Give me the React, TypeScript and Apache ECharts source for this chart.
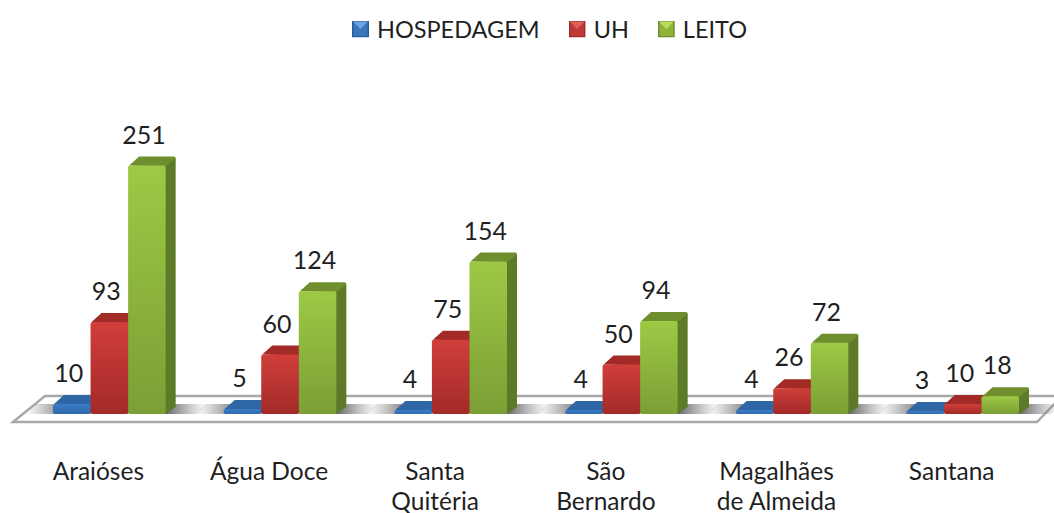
import React, { useEffect, useRef } from "react";
import * as echarts from "echarts";

const categories = ["Araióses", "Água Doce", "Santa\nQuitéria", "São\nBernardo", "Magalhães\nde Almeida", "Santana"];
const hospedagem = [10, 5, 4, 4, 4, 3];
const uh = [93, 60, 75, 50, 26, 10];
const leito = [251, 124, 154, 94, 72, 18];

const palette = [
  { front: ["#3c7cc6", "#2f69ad"], side: "#27568f", top: "#2f66a6" },
  { front: ["#d03e3b", "#a32a28"], side: "#7f1f1d", top: "#a22a27" },
  { front: ["#9dc945", "#7b9f35"], side: "#5c7a27", top: "#6f8f2e" },
];

const svgIcon = (hi: string, mid: string, edge: string) =>
  "image://data:image/svg+xml;charset=utf-8," +
  encodeURIComponent(
    `<svg xmlns="http://www.w3.org/2000/svg" width="17" height="17"><rect width="17" height="17" fill="${edge}"/><rect x="1.5" y="1.5" width="14" height="14" fill="${mid}"/><polygon points="1,1 16,1 8.5,8.5" fill="${hi}"/></svg>`
  );

const icons = [
  svgIcon("#6ea3e0", "#3a74ba", "#2b5c99"),
  svgIcon("#e0605c", "#bf3a37", "#96302e"),
  svgIcon("#b8dc5e", "#8fb23c", "#6f8c30"),
];

const vgrad = (a: string, b: string) => new echarts.graphic.LinearGradient(0, 0, 0, 1, [
  { offset: 0, color: a },
  { offset: 1, color: b },
]);
const hgrad = (a: string, b: string) => new echarts.graphic.LinearGradient(0, 0, 1, 0, [
  { offset: 0, color: a },
  { offset: 1, color: b },
]);

const barSeries = (name: string, values: number[], idx: number) => ({
  type: "custom",
  name,
  z: 3 + idx,
  itemStyle: { color: palette[idx].front[0] },
  data: values.map((v, i) => [i, v]),
  encode: { x: 0, y: 1 },
  renderItem: (_p: any, api: any) => {
    const band = api.size([1, 0])[0];
    const w = band * 0.22;
    const base = api.coord([api.value(0), 0]);
    const top = api.coord([api.value(0), api.value(1)]);
    const left = base[0] + band * 0.0645 + (idx - 1.5) * w;
    const right = left + w;
    const dx = 10;
    const dy = 9;
    const c = palette[idx];
    const h = Math.max(base[1] - top[1], 1);
    return {
      type: "group",
      children: [
        {
          type: "polygon",
          shape: { points: [[right - 1, top[1]], [right + dx, top[1] - dy + 1], [right + dx, base[1] - dy + 2], [right - 1, base[1]]] },
          style: { fill: c.side },
        },
        {
          type: "polygon",
          shape: { points: [[left + 1, top[1]], [left + dx + 1, top[1] - dy], [right + dx - 1, top[1] - dy], [right + dx, top[1] - dy + 2], [right, top[1] + 1]] },
          style: { fill: c.top },
        },
        {
          type: "rect",
          shape: { x: left, y: top[1], width: w, height: h, r: Math.min(2, h / 2) },
          style: { fill: vgrad(c.front[0], c.front[1]) },
        },
        {
          type: "text",
          style: {
            x: left + w / 2 - 3,
            y: top[1] - dy - 23,
            text: String(api.value(1)),
            fill: "#1f1f1f",
            font: "25px Lato",
            align: "center",
            verticalAlign: "middle",
          },
        },
      ],
    };
  },
});

const shadowSeries = {
  type: "custom",
  silent: true,
  z: 2,
  data: categories.map((_c, i) => [i, 0]),
  encode: { x: 0, y: 1 },
  renderItem: (_p: any, api: any) => {
    const band = api.size([1, 0])[0];
    const base = api.coord([api.value(0), 0]);
    const groupL = base[0] + band * 0.0645 - band * 0.33;
    const groupR = base[0] + band * 0.0645 + band * 0.33;
    const y = base[1] - 10;
    return {
      type: "group",
      children: [
        {
          type: "polygon",
          shape: { points: [[groupL - 18, y], [groupL + 14, y], [groupL + 4, y + 10], [groupL - 28, y + 10]] },
          style: { fill: hgrad("rgba(140,140,140,0)", "rgba(110,110,110,0.95)") },
        },
        {
          type: "polygon",
          shape: { points: [[groupR - 2, y], [groupR + 42, y], [groupR + 32, y + 10], [groupR - 2, y + 10]] },
          style: { fill: hgrad("rgba(90,90,90,1)", "rgba(140,140,140,0)") },
        },
      ],
    };
  },
};

export default function App() {
  const ref = useRef<HTMLDivElement>(null);
  useEffect(() => {
    const chart = echarts.init(ref.current!, undefined, { renderer: "svg" });
    chart.setOption({
      animation: false,
      backgroundColor: "#ffffff",
      textStyle: { fontFamily: "Lato" },
      legend: {
        left: 347,
        top: 12,
        itemWidth: 17,
        itemHeight: 17,
        itemGap: 29,
        data: [
          { name: "HOSPEDAGEM", icon: icons[0] },
          { name: "UH", icon: icons[1] },
          { name: "LEITO", icon: icons[2] },
        ],
        textStyle: { fontFamily: "Lato", fontSize: 23.5, color: "#1f1f1f", padding: [0, 0, 0, 3] },
      },
      grid: { left: 13, width: 1024, top: 117, height: 297, outerBoundsMode: "none" },
      xAxis: {
        type: "category",
        data: categories.map((c) => (c.includes("\n") ? { value: c, textStyle: { padding: [0, 9, 0, 0] } } : c)),
        axisLine: { show: false },
        axisTick: { show: false },
        axisLabel: { fontFamily: "Lato", fontSize: 24.5, color: "#1f1f1f", lineHeight: 30, margin: 41, interval: 0 },
      },
      yAxis: { type: "value", min: 0, max: 300, show: false },
      graphic: [
        {
          type: "polygon",
          z: 0,
          shape: { points: [[13, 422], [45, 396], [1062, 396], [1037, 422]] },
          style: { fill: "#ffffff", stroke: "#a8a8a8", lineWidth: 2.4 },
        },
      ],
      series: [
        shadowSeries,
        barSeries("HOSPEDAGEM", hospedagem, 0),
        barSeries("UH", uh, 1),
        barSeries("LEITO", leito, 2),
      ],
    });
    return () => chart.dispose();
  }, []);
  return <div ref={ref} style={{ position: "absolute", left: 0, top: 0, width: 1054, height: 513 }} />;
}
